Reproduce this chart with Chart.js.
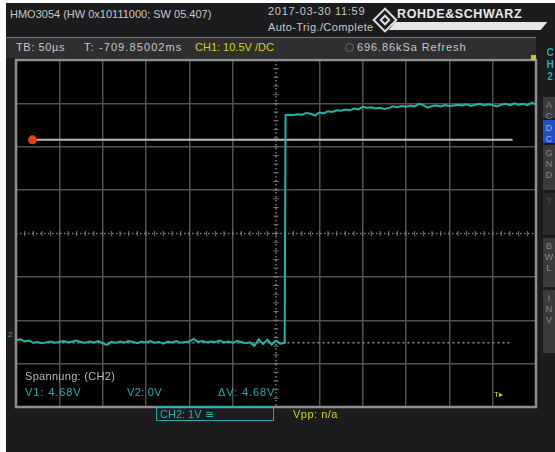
<!DOCTYPE html>
<html lang="de">
<head>
<meta charset="UTF-8">
<title>HMO3054 - Spannung (CH2)</title>
<script src="https://cdn.jsdelivr.net/npm/chart.js"></script>
<style>
  body { margin: 0; background: #fff; font-family: "Liberation Sans", Arial, sans-serif; }
  .abs { position: absolute; }
  .t { position: absolute; white-space: nowrap; font-size: 11px; line-height: 1; color: #c6c6c6; }
  .teal { color: #22b0aa; }
  .yel { color: #d2d21a; }
  #screen { left: 6px; top: 3px; width: 549px; height: 449px; background: #1c1c1e; }
  #strip { left: 6px; top: 37px; width: 530px; height: 20px; background: #2f2f31; border-top: 1px solid #777; }
  #chart { position: absolute; left: 6px; top: 50px; }
  .btn { position: absolute; left: 543px; width: 12px; background: #3b3b3d; color: #8a8a8a;
         font-size: 9px; line-height: 11px; text-align: center; padding-top: 3px; box-sizing: border-box; }
  .vert { position: absolute; left: 545px; font-size: 10px; line-height: 12px; font-weight: bold; width: 10px; text-align: center; }
</style>
</head>
<body>
<div id="screen" class="abs"></div>

<!-- header -->
<div class="t" style="left:10px; top:9px;">HMO3054 (HW 0x10111000; SW 05.407)</div>
<div class="t" style="left:268px; top:6px; letter-spacing:0.7px;">2017-03-30 11:59</div>
<div class="t" style="left:268px; top:22px; letter-spacing:0.4px;">Auto-Trig./Complete</div>
<div class="abs" style="left:376px; top:11px; width:14px; height:14px; border:2px solid #ddd; transform:rotate(45deg);"></div>
<div class="abs" style="left:381px; top:16px; width:4px; height:4px; border:2px solid #ddd; transform:rotate(45deg);"></div>
<div class="t" style="left:397px; top:8px; font-size:12.5px; font-weight:bold; color:#e8e8e8; letter-spacing:0.6px;">ROHDE&amp;SCHWARZ</div>
<div class="abs" style="left:392px; top:22px; width:152px; height:8px; background:#e6e6e6; transform:skewX(-40deg);"></div>

<div id="strip" class="abs"></div>
<div class="t" style="left:16px; top:42px; letter-spacing:0.6px;">TB: 50µs</div>
<div class="t" style="left:84px; top:42px; letter-spacing:1.1px;">T: -709.85002ms</div>
<div class="t yel" style="left:195px; top:42px;">CH1: 10.5V /DC</div>
<div class="abs" style="left:345px; top:43px; width:7px; height:7px; border-radius:50%; border:1px solid #666;"></div>
<div class="t" style="left:357px; top:42px; letter-spacing:0.9px;">696.86kSa Refresh</div>

<canvas id="chart" width="540" height="367"></canvas>

<!-- right side panel -->
<div class="vert teal" style="top:47px;">C<br>H<br>2</div>
<div class="abs" style="left:531px; top:55px; width:5px; height:5px; background:#c8c820;"></div>
<div class="btn" style="top:97px; height:21px;">A<br>C</div>
<div class="btn" style="top:120px; height:23px; background:#1f4fc4; color:#9fb4ea;">D<br>C</div>
<div class="btn" style="top:145px; height:45px;">G<br>N<br>D</div>
<div class="btn" style="top:193px; height:42px; background:#2a2a2c; color:#555;">?</div>
<div class="btn" style="top:238px; height:49px;">B<br>W<br>L</div>
<div class="btn" style="top:290px; height:63px;">I<br>N<br>V</div>

<!-- cursor measurement -->
<div class="t" style="left:25px; top:371px; color:#b9b9b9; letter-spacing:0.3px;">Spannung: (CH2)</div>
<div class="t teal" style="left:25px; top:387px; letter-spacing:0.9px;">V1: 4.68V</div>
<div class="t teal" style="left:127px; top:387px; letter-spacing:0.3px;">V2: 0V</div>
<div class="t teal" style="left:218px; top:387px; letter-spacing:0.9px;">ΔV: 4.68V</div>
<div class="t yel" style="left:494px; top:391px; font-size:8px;">T▸</div>
<div class="t" style="left:8px; top:331px; font-size:8px; color:#22b0aa;">2</div>

<div class="abs" style="left:156px; top:406px; width:116px; height:13px; border:1.5px solid #22a8a2;"></div>
<div class="t teal" style="left:160px; top:409px;">CH2: 1V ≅</div>
<div class="t yel" style="left:293px; top:409px; letter-spacing:0.5px;">Vpp: n/a</div>

<script>
// CH2 trace, 50 µs/div, 1 V/div
const timeLow = [-300, -295, -290, -285, -280, -275, -270, -265, -260, -255, -250, -245, -240, -235, -230,
  -225, -220, -215, -210, -205, -200, -195, -190, -185, -180, -175, -170, -165, -160, -155, -150, -145,
  -140, -135, -130, -125, -120, -115, -110, -105, -100, -95, -90, -85, -80, -75, -70, -65, -60, -55, -50,
  -45, -40, -35, -30, -25, -20, -15, -10, -5, 0, 5, 10];
const voltLow = [-2.46, -2.44, -2.49, -2.47, -2.52, -2.50, -2.53, -2.51, -2.49, -2.52, -2.50, -2.48, -2.51,
  -2.49, -2.47, -2.50, -2.52, -2.49, -2.51, -2.48, -2.53, -2.57, -2.50, -2.52, -2.49, -2.51, -2.48, -2.50,
  -2.53, -2.49, -2.51, -2.48, -2.52, -2.50, -2.54, -2.49, -2.51, -2.48, -2.52, -2.50, -2.49, -2.43, -2.50,
  -2.48, -2.51, -2.49, -2.50, -2.47, -2.51, -2.49, -2.52, -2.48, -2.50, -2.53, -2.51, -2.59, -2.44, -2.55,
  -2.45, -2.56, -2.47, -2.54, -2.52];

const timeHigh = [11, 15, 20, 25, 30, 35, 40, 45, 50, 55, 60, 65, 70, 75, 80, 85, 90, 95, 100, 105, 110, 115,
  120, 125, 130, 135, 140, 145, 150, 155, 160, 165, 170, 175, 180, 185, 190, 195, 200, 205, 210, 215, 220,
  225, 230, 235, 240, 245, 250, 255, 260, 265, 270, 275, 280, 285, 290, 295, 300];
const voltHigh = [2.73, 2.74, 2.73, 2.75, 2.74, 2.78, 2.76, 2.72, 2.79, 2.77, 2.82, 2.80, 2.84, 2.83, 2.86,
  2.84, 2.88, 2.86, 2.92, 2.90, 2.91, 2.88, 2.90, 2.87, 2.89, 2.93, 2.91, 2.94, 2.92, 2.95, 2.93, 2.99,
  2.96, 2.90, 2.94, 2.95, 2.93, 2.96, 2.94, 2.95, 2.97, 2.95, 2.98, 2.94, 2.97, 2.99, 2.95, 2.98, 2.96,
  2.93, 2.97, 2.99, 2.96, 3.00, 2.97, 2.99, 2.96, 3.01, 2.98];

// voltage cursors
const cursorTime = [-281, 273];
const cursorV1 = 2.16;
const cursorV2 = -2.52;

const trace = timeLow.concat(timeHigh).map((t, i) => ({ x: t, y: voltLow.concat(voltHigh)[i] }));
const line = (v) => cursorTime.map(t => ({ x: t, y: v }));

const scopeScreen = {
  id: 'scopeScreen',
  beforeDraw(chart) {
    const { ctx, chartArea: a } = chart;
    ctx.save();
    ctx.fillStyle = '#000';
    ctx.fillRect(a.left, a.top, a.width, a.height);
    ctx.restore();
  },
  beforeDatasetsDraw(chart) {
    const { ctx, chartArea: a, scales: { x, y } } = chart;
    const cx = x.getPixelForValue(0), cy = y.getPixelForValue(0);
    ctx.save();
    ctx.strokeStyle = '#7c7c7c';
    ctx.lineWidth = 1.5;
    ctx.setLineDash([1.5, 2.5]);
    ctx.beginPath();
    ctx.moveTo(cx, a.top); ctx.lineTo(cx, a.bottom);
    ctx.moveTo(a.left, cy); ctx.lineTo(a.right, cy);
    ctx.stroke();
    ctx.setLineDash([]);
    ctx.lineWidth = 1;
    ctx.beginPath();
    for (let v = -4; v <= 4.001; v += 0.2) {
      const py = y.getPixelForValue(v);
      ctx.moveTo(cx - 2.5, py); ctx.lineTo(cx + 2.5, py);
    }
    for (let t = -300; t <= 300.001; t += 10) {
      const px = x.getPixelForValue(t);
      ctx.moveTo(px, cy - 2.5); ctx.lineTo(px, cy + 2.5);
    }
    ctx.stroke();
    ctx.restore();
  },
  afterDraw(chart) {
    const { ctx, chartArea: a } = chart;
    ctx.save();
    ctx.strokeStyle = '#8e8e8e';
    ctx.lineWidth = 2.5;
    ctx.strokeRect(a.left, a.top, a.width, a.height);
    ctx.restore();
  }
};

const grid = {
  color: (c) => (c.tick && c.tick.value === 0 ? 'transparent' : '#505050'),
  lineWidth: 1.5,
  drawTicks: false
};

new Chart(document.getElementById('chart'), {
  type: 'line',
  data: {
    datasets: [
      { data: trace, borderColor: '#22b3ab', borderWidth: 2, pointRadius: 0, tension: 0 },
      { data: line(cursorV1), borderColor: '#b8b8b8', borderWidth: 2,
        pointRadius: [4.5, 0], pointBackgroundColor: '#e2430f', pointBorderWidth: 0 },
      { data: line(cursorV2), borderColor: '#8a8a8a', borderWidth: 1.5, borderDash: [2, 3], pointRadius: 0 }
    ]
  },
  options: {
    responsive: false,
    animation: false,
    layout: { padding: 10 },
    plugins: { legend: { display: false }, tooltip: { enabled: false } },
    scales: {
      x: { type: 'linear', min: -300, max: 300, ticks: { display: false, stepSize: 50 }, grid, border: { display: false } },
      y: { type: 'linear', min: -4, max: 4, ticks: { display: false, stepSize: 1 }, grid, border: { display: false } }
    }
  },
  plugins: [scopeScreen]
});
</script>
</body>
</html>
